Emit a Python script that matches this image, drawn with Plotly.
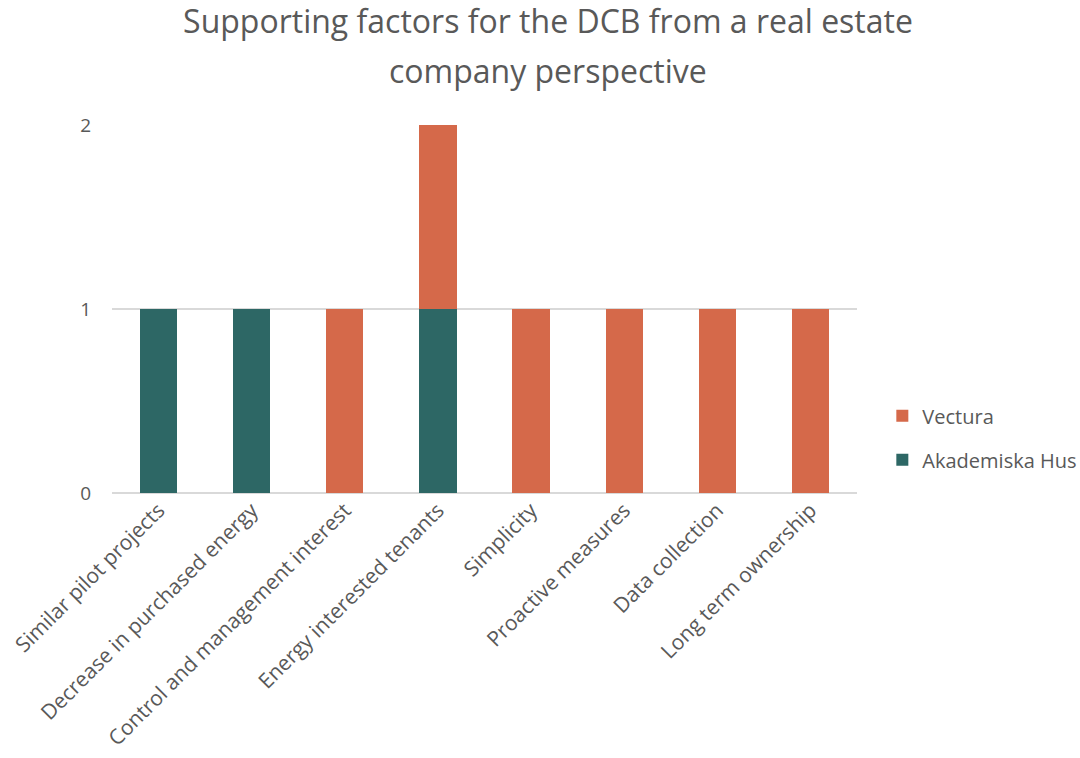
import plotly.graph_objects as go

categories = ["Similar pilot projects", "Decrease in purchased energy",
              "Control and management interest", "Energy interested tenants",
              "Simplicity", "Proactive measures", "Data collection",
              "Long term ownership"]
akademiska = [1, 1, 0, 1, 0, 0, 0, 0]
vectura = [0, 0, 1, 1, 1, 1, 1, 1]
title_lines = ["Supporting factors for the DCB from a real estate",
               "company perspective"]

FONT = "Open Sans"
GREY = "#595959"

fig = go.Figure()
fig.add_trace(go.Bar(x=categories, y=akademiska, name="Akademiska Hus",
                     marker=dict(color="#2D6765", line=dict(width=0)),
                     legendgroup="a", legendrank=2))
fig.add_trace(go.Bar(x=categories, y=vectura, name="Vectura",
                     marker=dict(color="#D5694A", line=dict(width=0)),
                     legendgroup="v", legendrank=1))

fig.update_layout(
    width=1080, height=758,
    barmode="stack", bargap=0.6,
    paper_bgcolor="white", plot_bgcolor="white",
    margin=dict(l=112, r=223, t=125, b=265, autoexpand=False),
    title=dict(text=title_lines[0],
               x=548 / 1080, xanchor="center", xref="container",
               y=1 - 22 / 758, yanchor="middle", yref="container",
               font=dict(family=FONT, size=32, color=GREY)),
    font=dict(family=FONT, color=GREY, size=20),
    legend=dict(x=1.034, xanchor="left", y=0.15, yanchor="middle",
                traceorder="grouped", tracegroupgap=15,
                bgcolor="rgba(0,0,0,0)",
                font=dict(family=FONT, size=20, color=GREY)),
    showlegend=True,
)
fig.add_annotation(text=title_lines[1], xref="paper", yref="paper",
                   x=(548 - 112) / 745, y=(493 - 70) / 368,
                   xanchor="center", yanchor="middle", showarrow=False,
                   font=dict(family=FONT, size=32, color=GREY))
fig.update_xaxes(tickangle=-45, showgrid=False, showline=False,
                 tickfont=dict(family=FONT, size=21, color=GREY), ticks="")
fig.update_yaxes(range=[0, 2], tickvals=[0, 1, 2], showgrid=True,
                 gridcolor="#D9D9D9", gridwidth=1.5, zeroline=True,
                 zerolinecolor="#D9D9D9", zerolinewidth=1.5,
                 tickfont=dict(family=FONT, size=19, color=GREY),
                 ticks="outside", ticklen=16, tickcolor="white")

fig.write_html("out.html")
